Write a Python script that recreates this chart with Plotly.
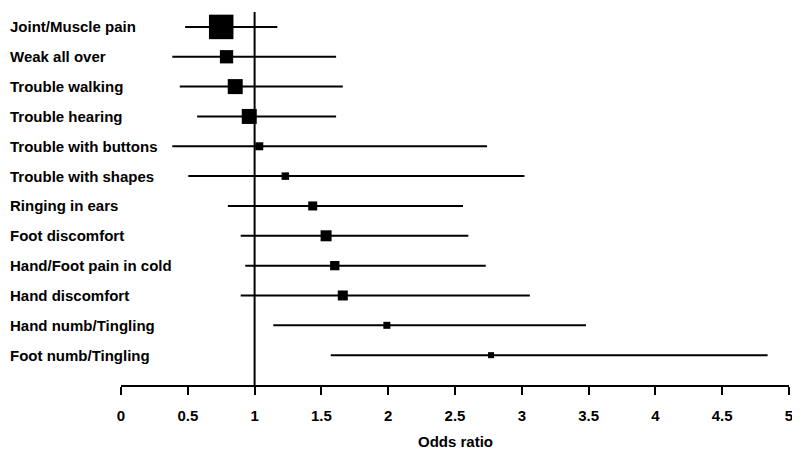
import plotly.graph_objects as go

labels = ["Joint/Muscle pain", "Weak all over", "Trouble walking", "Trouble hearing",
          "Trouble with buttons", "Trouble with shapes", "Ringing in ears",
          "Foot discomfort", "Hand/Foot pain in cold", "Hand discomfort",
          "Hand numb/Tingling", "Foot numb/Tingling"]
odds_ratio = [0.75, 0.79, 0.855, 0.96, 1.035, 1.23, 1.435, 1.535, 1.60, 1.66, 1.99, 2.77]
ci_low = [0.48, 0.384, 0.44, 0.57, 0.384, 0.504, 0.80, 0.896, 0.93, 0.896, 1.14, 1.57]
ci_high = [1.17, 1.61, 1.66, 1.61, 2.74, 3.02, 2.56, 2.60, 2.73, 3.06, 3.48, 4.84]
weights = [24.5, 13.3, 15, 15, 8, 7.5, 9, 11, 9.3, 10, 7, 6]
x_ticks = [0, 0.5, 1, 1.5, 2, 2.5, 3, 3.5, 4, 4.5, 5]
x_ticklabels = ["0", "0.5", "1", "1.5", "2", "2.5", "3", "3.5", "4", "4.5", "5"]

rows = list(range(len(labels)))
err_plus = [h - o for h, o in zip(ci_high, odds_ratio)]
err_minus = [o - l for o, l in zip(odds_ratio, ci_low)]

fig = go.Figure()
fig.add_trace(go.Scatter(
    x=odds_ratio, y=rows, mode="markers",
    marker=dict(symbol="square", size=weights, color="#000000", opacity=1,
                line=dict(width=0)),
    error_x=dict(type="data", symmetric=False, array=err_plus, arrayminus=err_minus,
                 width=0, thickness=2, color="#000000"),
    showlegend=False, hoverinfo="skip", cliponaxis=False,
))

fig.add_shape(type="line", xref="x", yref="paper", x0=1, x1=1, y0=0, y1=1,
              line=dict(color="black", width=2), layer="below")

for i, lab in enumerate(labels):
    fig.add_annotation(x=0, xref="paper", y=i, yref="y", text=lab, showarrow=False,
                       xanchor="left", xshift=-113, yanchor="middle",
                       font=dict(family="Liberation Sans, Arial, sans-serif", size=15,
                                 color="black", weight="bold"))

fig.add_annotation(x=0.5, xref="paper", y=0, yref="paper", text="Odds ratio",
                   showarrow=False, xanchor="center", yanchor="middle", yshift=-56,
                   font=dict(family="Liberation Sans, Arial, sans-serif", size=15,
                             color="black", weight="bold"))

fig.update_layout(
    template="none",
    width=792, height=446,
    margin=dict(l=113, r=11, t=4, b=69, autoexpand=False),
    plot_bgcolor="white", paper_bgcolor="white",
    font=dict(family="Liberation Sans, Arial, sans-serif", size=15, color="black"),
    xaxis=dict(range=[0, 5], tickvals=x_ticks, ticktext=x_ticklabels,
               showline=True, linecolor="black", linewidth=2,
               ticks="outside", ticklen=8, tickwidth=2, tickcolor="black",
               ticklabelstandoff=8,
               showgrid=False, zeroline=False, automargin=False,
               tickfont=dict(size=15, weight="bold")),
    yaxis=dict(range=[12, -0.5], showticklabels=False, showgrid=False,
               zeroline=False, showline=False, ticks="", automargin=False),
)

fig.write_html("out.html")
